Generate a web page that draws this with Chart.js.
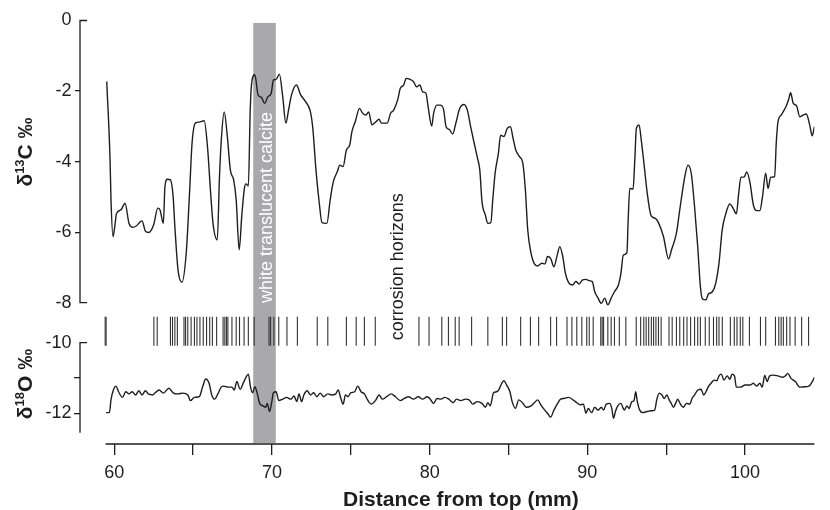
<!DOCTYPE html>
<html>
<head>
<meta charset="utf-8">
<script src="https://cdn.jsdelivr.net/npm/chart.js@4.4.1/dist/chart.umd.min.js"></script>
<style>
html,body{margin:0;padding:0;background:#fff;}
#wrap{width:830px;height:510px;position:relative;}
</style>
</head>
<body>
<div id="wrap"><canvas id="c" width="830" height="510"></canvas></div>
<script>
// ---------------- data ----------------
const cDepth = [59.52,59.73,59.79,59.92,60.04,60.14,60.42,60.68,60.93,61.14,61.35,61.76,61.97,62.18,62.49,62.76,62.90,63.11,63.21,63.36,63.56,63.73,63.84,64.04,64.29,64.56,64.77,64.93,65.14,65.39,65.70,65.91,66.11,66.26,66.53,66.67,66.80,66.97,67.15,67.36,67.57,67.73,67.92,68.08,68.25,68.35,68.50,68.62,68.71,68.91,69.12,69.33,69.53,69.74,69.95,70.09,70.26,70.47,70.68,70.88,71.05,71.24,71.55,71.82,72.13,72.44,72.58,72.79,73.00,73.17,73.48,73.69,73.89,74.14,74.30,74.51,74.72,74.93,75.07,75.28,75.55,75.75,75.96,76.13,76.34,76.59,76.79,76.94,77.31,77.52,77.72,77.97,78.14,78.35,78.51,78.76,78.97,79.17,79.38,79.55,79.76,79.90,80.13,80.25,80.46,80.67,80.88,81.04,81.25,81.46,81.66,81.91,82.18,82.39,82.60,82.80,83.01,83.18,83.32,83.53,83.68,83.88,84.00,84.15,84.36,84.50,84.71,84.92,85.12,85.29,85.46,85.70,85.91,86.07,86.22,86.43,86.64,86.85,87.11,87.32,87.47,87.67,87.88,88.09,88.25,88.44,88.61,88.81,89.06,89.27,89.48,89.68,89.89,90.16,90.31,90.47,90.68,90.89,91.10,91.30,91.51,91.72,91.97,92.13,92.28,92.51,92.59,92.69,92.90,93.01,93.11,93.28,93.42,93.59,93.80,94.05,94.32,94.53,94.83,95.15,95.34,95.65,95.86,96.01,96.18,96.38,96.59,96.80,97.00,97.17,97.31,97.52,97.67,97.93,98.14,98.35,98.55,98.76,99.03,99.24,99.45,99.60,99.74,99.94,100.11,100.32,100.53,100.73,100.94,101.11,101.31,101.46,101.63,101.88,101.98,102.09,102.29,102.60,102.77,102.89,103.06,103.27,103.47,103.68,103.89,104.10,104.26,104.40];
const cValues = [-1.73,-3.95,-5.09,-6.13,-5.80,-5.47,-5.37,-5.18,-5.75,-5.86,-5.84,-5.68,-5.97,-6.01,-5.80,-5.32,-5.37,-5.75,-4.71,-4.50,-4.52,-4.99,-5.84,-7.07,-7.42,-6.60,-4.90,-3.48,-2.91,-2.88,-2.84,-3.58,-4.90,-5.75,-6.22,-4.43,-3.29,-2.59,-3.20,-4.24,-4.52,-5.09,-6.50,-5.56,-4.76,-4.63,-4.69,-2.54,-1.78,-1.54,-2.11,-2.18,-2.35,-2.16,-2.06,-1.69,-1.67,-1.52,-2.16,-2.91,-2.54,-2.11,-1.83,-2.11,-2.30,-2.59,-3.01,-4.24,-5.18,-5.73,-5.75,-5.09,-4.57,-4.29,-4.10,-4.14,-3.67,-3.53,-3.15,-2.87,-2.49,-2.63,-2.68,-2.59,-2.96,-2.87,-2.80,-2.91,-2.91,-2.63,-2.54,-2.25,-1.92,-1.83,-1.64,-1.67,-1.73,-1.88,-1.83,-2.02,-2.06,-2.44,-2.99,-2.63,-2.40,-2.40,-2.52,-3.01,-3.09,-3.22,-2.91,-2.49,-2.38,-2.54,-3.01,-3.43,-3.86,-4.24,-5.14,-5.51,-5.75,-5.73,-5.09,-4.33,-3.76,-3.25,-3.29,-3.06,-3.01,-3.34,-3.67,-3.86,-4.05,-4.80,-5.94,-6.60,-6.90,-6.96,-6.88,-6.90,-6.69,-6.74,-6.98,-6.65,-6.41,-6.69,-7.17,-7.43,-7.50,-7.40,-7.47,-7.36,-7.34,-7.38,-7.40,-7.69,-7.87,-8.02,-7.87,-8.06,-7.87,-7.69,-7.50,-7.17,-6.65,-6.58,-5.65,-4.76,-4.78,-3.95,-3.06,-2.96,-3.39,-4.05,-4.90,-5.54,-5.61,-5.75,-6.13,-6.76,-6.50,-6.03,-5.37,-4.90,-4.43,-4.10,-4.33,-5.28,-6.41,-7.55,-7.90,-7.92,-7.76,-7.69,-7.45,-6.88,-5.94,-5.51,-5.20,-5.32,-5.48,-4.90,-4.44,-4.44,-4.29,-4.61,-5.23,-5.39,-5.39,-4.99,-4.33,-4.76,-4.44,-4.43,-3.48,-2.87,-2.68,-2.44,-2.23,-2.05,-2.35,-2.42,-2.73,-2.68,-2.65,-2.96,-3.27,-3.01];

const oDepth = [59.48,59.69,59.79,59.94,60.11,60.27,60.52,60.73,60.93,61.14,61.35,61.55,61.76,61.97,62.18,62.43,62.59,62.84,63.11,63.46,63.73,64.04,64.35,64.66,64.83,65.08,65.39,65.60,65.80,66.01,66.18,66.36,66.57,66.78,66.95,67.20,67.46,67.61,67.77,67.98,68.19,68.35,68.50,68.64,68.77,68.91,69.06,69.22,69.43,69.60,69.70,69.84,69.97,70.09,70.26,70.43,70.68,70.93,71.19,71.40,71.57,71.71,71.88,72.02,72.23,72.44,72.64,72.85,73.06,73.27,73.54,73.79,74.04,74.20,74.35,74.51,74.66,74.82,74.99,75.24,75.44,75.65,75.86,76.06,76.31,76.59,76.79,77.00,77.27,77.56,77.83,78.14,78.39,78.66,78.97,79.28,79.55,79.84,80.04,80.25,80.46,80.73,80.94,81.21,81.50,81.70,81.97,82.28,82.50,82.74,83.01,83.32,83.53,83.69,83.84,84.05,84.25,84.40,84.57,84.71,84.88,85.09,85.23,85.44,85.65,85.92,86.12,86.43,86.64,86.85,87.05,87.30,87.51,87.67,87.88,88.09,88.30,88.54,88.81,89.09,89.33,89.54,89.75,89.91,90.06,90.27,90.47,90.68,90.89,91.03,91.20,91.41,91.55,91.66,91.78,91.93,92.13,92.34,92.51,92.65,92.82,92.96,93.07,93.17,93.32,93.52,93.79,94.06,94.27,94.41,94.56,94.73,94.88,95.04,95.19,95.32,95.46,95.60,95.73,95.88,96.08,96.29,96.50,96.64,96.80,97.01,97.21,97.38,97.52,97.67,97.84,98.05,98.21,98.35,98.50,98.66,98.87,99.04,99.18,99.33,99.45,99.70,100.01,100.32,100.53,100.73,100.94,101.09,101.25,101.40,101.56,101.77,102.09,102.40,102.56,102.71,102.92,103.19,103.48,103.75,104.06,104.27,104.40];
const oValues = [-11.98,-11.98,-11.62,-11.34,-11.23,-11.39,-11.55,-11.39,-11.45,-11.39,-11.48,-11.36,-11.48,-11.36,-11.46,-11.48,-11.42,-11.34,-11.43,-11.29,-11.42,-11.45,-11.43,-11.48,-11.64,-11.55,-11.53,-11.25,-11.03,-11.15,-11.48,-11.60,-11.45,-11.26,-11.23,-11.26,-11.26,-11.34,-11.10,-11.32,-11.13,-10.98,-10.89,-11.26,-11.42,-11.25,-11.43,-11.72,-11.79,-11.83,-11.72,-11.95,-11.72,-11.42,-11.39,-11.64,-11.60,-11.55,-11.60,-11.51,-11.67,-11.45,-11.67,-11.48,-11.36,-11.48,-11.42,-11.53,-11.43,-11.53,-11.45,-11.48,-11.45,-11.34,-11.55,-11.74,-11.48,-11.53,-11.42,-11.39,-11.23,-11.39,-11.45,-11.62,-11.74,-11.62,-11.48,-11.60,-11.53,-11.45,-11.53,-11.64,-11.58,-11.53,-11.60,-11.53,-11.60,-11.53,-11.60,-11.72,-11.58,-11.60,-11.55,-11.60,-11.70,-11.60,-11.64,-11.60,-11.62,-11.74,-11.67,-11.72,-11.83,-11.70,-11.79,-11.42,-11.39,-11.32,-11.15,-11.08,-11.20,-11.39,-11.67,-11.86,-11.62,-11.72,-11.83,-11.79,-11.70,-11.62,-11.76,-11.91,-12.02,-12.11,-11.91,-11.74,-11.60,-11.58,-11.55,-11.62,-11.70,-11.76,-11.74,-12.00,-11.86,-11.98,-11.83,-11.91,-11.83,-11.91,-11.74,-11.72,-11.86,-12.14,-11.95,-11.79,-11.72,-11.91,-11.79,-11.86,-11.67,-11.64,-11.39,-11.67,-11.91,-11.98,-11.95,-11.93,-11.91,-11.60,-11.43,-11.48,-11.58,-11.48,-11.62,-11.72,-11.83,-11.72,-11.60,-11.72,-11.83,-11.72,-11.74,-11.58,-11.48,-11.34,-11.32,-11.48,-11.39,-11.25,-11.15,-11.06,-11.08,-10.94,-10.89,-11.06,-10.94,-11.04,-10.89,-10.94,-11.26,-11.26,-11.20,-11.20,-11.15,-11.23,-11.15,-11.26,-10.92,-11.10,-10.94,-10.92,-10.94,-10.98,-10.94,-10.87,-11.01,-11.10,-11.26,-11.25,-11.23,-11.10,-10.98];

const horizonDepths = [59.42,59.48,62.51,62.72,63.56,63.69,63.84,64.00,64.42,64.52,64.66,64.87,65.08,65.24,65.43,65.64,65.85,66.05,66.22,66.49,66.90,67.01,67.11,67.20,67.46,67.73,67.94,68.23,68.50,68.87,69.81,69.91,70.12,70.43,70.95,71.61,72.87,73.54,74.72,75.34,75.86,76.55,79.32,79.96,80.77,81.19,81.62,81.87,82.66,83.69,84.61,84.88,85.77,86.39,86.91,87.67,88.05,88.71,89.02,89.33,89.65,89.96,90.12,90.37,90.85,90.94,91.03,91.30,91.51,91.72,92.03,92.44,93.10,93.38,93.58,93.73,93.89,94.06,94.20,94.35,94.51,94.68,95.18,95.38,95.65,95.86,96.11,96.32,96.55,96.80,97.00,97.17,97.48,97.73,98.00,98.20,98.35,98.56,99.07,99.32,99.49,99.70,99.86,100.28,100.98,101.31,101.93,102.14,102.29,102.43,102.64,102.85,103.18,103.59,104.03];

const calciteBand = [68.81, 70.24];
const xTicks = [60,65,70,75,80,85,90,95,100];
const xTickLabels = ['60','','70','','80','','90','','100'];
const cTicks = [0,-2,-4,-6,-8];
const cTickLabels = ['0','-2','-4','-6','-8'];
const oTicks = [-10,-11,-12];
const oTickLabels = ['-10','','-12'];

// ---------------- styling ----------------
const INK = '#1e1e1e';
const FONT = '"Liberation Sans", Arial, Helvetica, sans-serif';
const CLEAR = 'rgba(0,0,0,0)';
const HORIZON_MID = -8.808;   // vertical centre of the horizon marks (yC units)

function richVertical(ctx, baseX, centerY, parts) {
  ctx.save();
  ctx.translate(baseX, centerY);
  ctx.rotate(-Math.PI / 2);
  let total = 0;
  parts.forEach(p => { ctx.font = `bold ${p.size}px ${FONT}`; p.w = ctx.measureText(p.t).width; total += p.w; });
  let pos = -total / 2;
  ctx.textAlign = 'left';
  ctx.textBaseline = 'alphabetic';
  ctx.fillStyle = INK;
  parts.forEach(p => { ctx.font = `bold ${p.size}px ${FONT}`; ctx.fillText(p.t, pos, -p.rise); pos += p.w; });
  ctx.restore();
}

const annot = {
  id: 'annot',
  beforeDatasetsDraw(chart) {
    const {ctx, scales: {x, yC}, chartArea} = chart;
    const x0 = x.getPixelForValue(calciteBand[0]);
    const x1 = x.getPixelForValue(calciteBand[1]);
    const top = yC.getPixelForValue(-0.07);
    ctx.save();
    ctx.fillStyle = '#a9a9ab';
    ctx.fillRect(x0, top, x1 - x0, chartArea.bottom - 1 - top);
    ctx.translate((x0 + x1) / 2 + 7.5, yC.getPixelForValue(-5.3));
    ctx.rotate(-Math.PI / 2);
    ctx.fillStyle = '#ffffff';
    ctx.font = `18px ${FONT}`;
    ctx.textAlign = 'center';
    ctx.textBaseline = 'alphabetic';
    ctx.fillText('white translucent calcite', 0, 0);
    ctx.restore();
  },
  afterDraw(chart) {
    const {ctx, scales: {x, yC, yO}, chartArea} = chart;
    ctx.save();
    ctx.strokeStyle = INK;
    ctx.lineWidth = 1.3;
    const ax = chartArea.left;
    ctx.beginPath();
    ctx.moveTo(ax + 7, yC.getPixelForValue(0));
    ctx.lineTo(ax, yC.getPixelForValue(0));
    ctx.lineTo(ax, yC.getPixelForValue(-8));
    ctx.lineTo(ax + 7, yC.getPixelForValue(-8));
    ctx.moveTo(ax + 7, yO.getPixelForValue(-10));
    ctx.lineTo(ax, yO.getPixelForValue(-10));
    ctx.lineTo(ax, yO.getPixelForValue(-12.55));
    const by = chartArea.bottom;
    ctx.moveTo(x.getPixelForValue(59.44), by);
    ctx.lineTo(chartArea.right, by);
    ctx.stroke();

    ctx.translate(x.getPixelForValue(78.31), yC.getPixelForValue(-6.98));
    ctx.rotate(-Math.PI / 2);
    ctx.fillStyle = INK;
    ctx.font = `18px ${FONT}`;
    ctx.textAlign = 'center';
    ctx.textBaseline = 'alphabetic';
    ctx.fillText('corrosion horizons', 0, 0);
    ctx.restore();

    ctx.save();
    ctx.fillStyle = INK;
    ctx.font = `bold 21px ${FONT}`;
    ctx.textAlign = 'center';
    ctx.textBaseline = 'alphabetic';
    ctx.fillText('Distance from top (mm)', (x.getPixelForValue(59.44) + chartArea.right) / 2 + 1, 506);
    ctx.restore();
    richVertical(ctx, 32, 152, [{t: 'δ', size: 21, rise: 0}, {t: '13', size: 13, rise: 8}, {t: 'C ‰', size: 21, rise: 0}]);
    richVertical(ctx, 32, 384, [{t: 'δ', size: 21, rise: 0}, {t: '18', size: 13, rise: 8}, {t: 'O ‰', size: 21, rise: 0}]);
  }
};

const toXY = (xs, ys) => xs.map((v, i) => ({x: v, y: ys[i]}));

new Chart(document.getElementById('c'), {
  type: 'line',
  data: {
    datasets: [
      {label: 'δ13C', data: toXY(cDepth, cValues), yAxisID: 'yC', borderColor: INK, borderWidth: 1.4, pointRadius: 0, cubicInterpolationMode: 'monotone', fill: false},
      {label: 'δ18O', data: toXY(oDepth, oValues), yAxisID: 'yO', borderColor: INK, borderWidth: 1.4, pointRadius: 0, cubicInterpolationMode: 'monotone', fill: false},
      {label: 'corrosion horizons', data: horizonDepths.map(d => ({x: d, y: HORIZON_MID})), yAxisID: 'yC', showLine: false, clip: false,
       pointStyle: 'line', pointRotation: 90, pointRadius: 14.5, pointBorderWidth: 1.1, pointBorderColor: '#333', pointBackgroundColor: '#333'}
    ]
  },
  options: {
    responsive: false,
    animation: false,
    events: [],
    layout: {padding: {left: 0, right: 1, top: 20.5, bottom: 0}},
    plugins: {legend: {display: false}, tooltip: {enabled: false}},
    scales: {
      x: {
        type: 'linear', position: 'bottom', min: 57.824, max: 104.40,
        afterFit: s => { s.height = 66; },
        afterBuildTicks: s => { s.ticks = xTicks.map(v => ({value: v})); },
        border: {display: false},
        grid: {drawOnChartArea: false, drawTicks: true, tickLength: 11, lineWidth: 1.3, color: INK},
        ticks: {autoSkip: false, maxRotation: 0, padding: 7, color: INK, font: {family: FONT, size: 18},
                callback: v => xTickLabels[xTicks.indexOf(v)]}
      },
      yO: {
        type: 'linear', position: 'left', stack: 'iso', stackWeight: 122, min: -12.870, max: -9.4136,
        afterFit: s => { s.width = 80; },
        afterBuildTicks: s => { s.ticks = oTicks.map(v => ({value: v})); },
        border: {display: false},
        grid: {drawOnChartArea: false, drawTicks: true, tickLength: 6, lineWidth: 1.3,
               color: c => (c.tick && c.tick.value === -10) ? CLEAR : INK},
        ticks: {autoSkip: false, padding: 2.5, color: INK, font: {family: FONT, size: 18},
                callback: v => oTickLabels[oTicks.indexOf(v)]}
      },
      yC: {
        type: 'linear', position: 'left', stack: 'iso', stackWeight: 301.5, min: -8.547, max: 0,
        afterFit: s => { s.width = 80; },
        afterBuildTicks: s => { s.ticks = cTicks.map(v => ({value: v})); },
        border: {display: false},
        grid: {drawOnChartArea: false, drawTicks: true, tickLength: 5, lineWidth: 1.3,
               color: c => (c.tick && (c.tick.value === 0 || c.tick.value === -8)) ? CLEAR : INK},
        ticks: {autoSkip: false, padding: 3.5, color: INK, font: {family: FONT, size: 18},
                callback: v => cTickLabels[cTicks.indexOf(v)]}
      }
    }
  },
  plugins: [annot]
});
</script>
</body>
</html>
